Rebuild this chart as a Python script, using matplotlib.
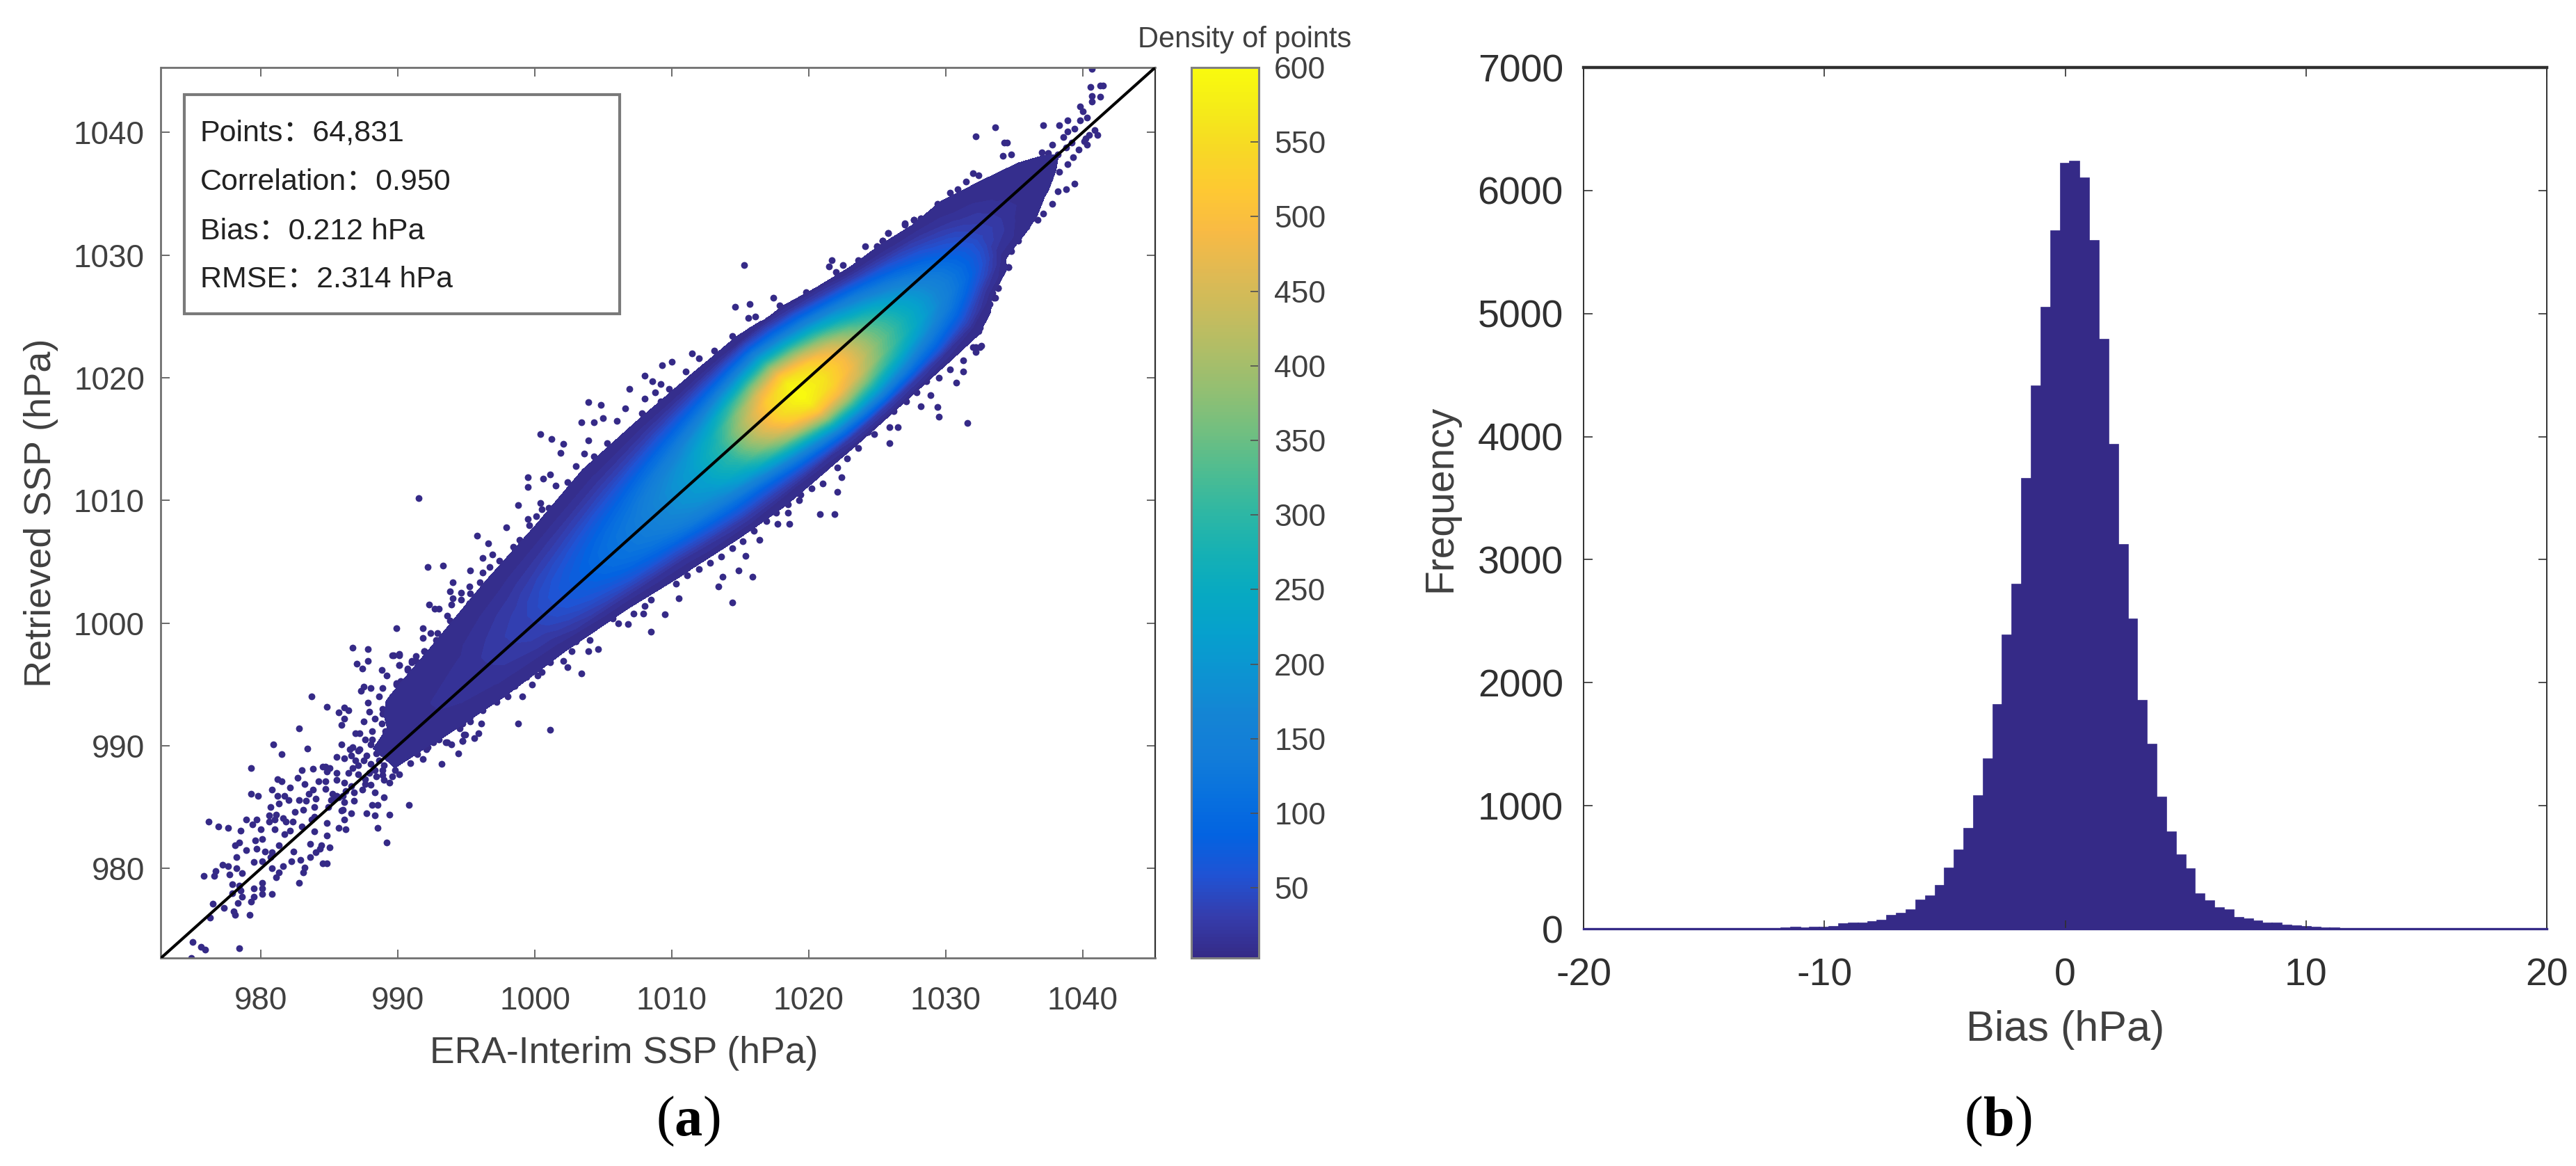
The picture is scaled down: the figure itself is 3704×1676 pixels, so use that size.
import numpy as np
import matplotlib
matplotlib.use("Agg")
import matplotlib.pyplot as plt
from matplotlib.colors import LinearSegmentedColormap, Normalize
from matplotlib.cm import ScalarMappable
from matplotlib.patches import Rectangle

plt.rcParams['font.family'] = ['Liberation Sans', 'Noto Sans CJK SC', 'DejaVu Sans']
plt.rcParams['axes.unicode_minus'] = False

# parula, every 4th entry or so of the 64 step table
parula = [
    (0.2081, 0.1663, 0.5292), (0.2081, 0.2386, 0.6771), (0.1253, 0.3242, 0.8303),
    (0.0117, 0.3875, 0.8820), (0.0329, 0.4430, 0.8720), (0.0723, 0.4887, 0.8467),
    (0.0793, 0.5200, 0.8312), (0.0488, 0.5772, 0.8228), (0.0239, 0.6287, 0.8038),
    (0.0267, 0.6642, 0.7607), (0.0843, 0.6928, 0.7062), (0.1801, 0.7177, 0.6424),
    (0.3022, 0.7376, 0.5712), (0.4420, 0.7481, 0.5033), (0.5709, 0.7485, 0.4494),
    (0.6834, 0.7435, 0.4044), (0.7858, 0.7356, 0.3633), (0.8824, 0.7274, 0.3217),
    (0.9739, 0.7314, 0.2666), (0.9955, 0.7861, 0.1967), (0.9697, 0.8481, 0.1475),
    (0.9598, 0.9218, 0.0948), (0.9763, 0.9831, 0.0538),
]
cmap = LinearSegmentedColormap.from_list('parula', parula, N=256)

along = [989, 992, 996, 1000, 1004, 1008, 1012, 1014, 1016, 1017.5, 1019, 1020.5, 1022,
         1024, 1026, 1028, 1030, 1032, 1034, 1036, 1038, 1039.5, 1041]
across = [-10, -9, -7.9, -6.8, -5.6, -4.5, -3.4, -2.2, -1.1, 0, 1.1, 2.2, 3.4, 4.5, 5.6, 6.8, 7.9, 9, 10]
density = [
    [0, 0, 0, 0, 0, 0, 0, 0, 7, 8, 7, 0, 0, 0, 0, 0, 0, 0, 0],
    [0, 0, 0, 0, 0, 0, 0, 6, 9, 11, 11, 9, 7, 5, 0, 0, 0, 0, 0],
    [0, 0, 0, 0, 0, 0, 6, 12, 16, 18, 18, 14, 11, 7, 5, 0, 0, 0, 0],
    [0, 0, 0, 0, 0, 4, 12, 24, 34, 38, 38, 33, 25, 17, 10, 5, 0, 0, 0],
    [0, 0, 0, 0, 4, 16, 42, 66, 82, 88, 84, 72, 54, 36, 22, 10, 4, 0, 0],
    [0, 0, 0, 5, 20, 52, 92, 125, 140, 140, 136, 120, 95, 68, 42, 22, 10, 4, 0],
    [0, 0, 6, 28, 70, 118, 170, 205, 220, 220, 215, 195, 158, 116, 74, 36, 14, 4, 0],
    [0, 2, 10, 40, 90, 160, 230, 280, 300, 300, 290, 260, 210, 150, 95, 45, 14, 3, 0],
    [0, 2, 15, 60, 140, 240, 340, 410, 440, 440, 425, 380, 300, 210, 125, 55, 15, 2, 0],
    [0, 2, 20, 85, 190, 310, 430, 510, 540, 540, 520, 465, 365, 255, 150, 65, 15, 0, 0],
    [0, 3, 30, 120, 260, 400, 510, 575, 600, 600, 575, 510, 400, 280, 170, 70, 12, 0, 0],
    [0, 3, 35, 140, 280, 400, 490, 540, 560, 555, 525, 450, 340, 230, 130, 50, 5, 0, 0],
    [0, 3, 35, 140, 260, 360, 440, 480, 490, 480, 440, 365, 265, 170, 90, 25, 0, 0, 0],
    [0, 3, 30, 110, 200, 280, 335, 360, 360, 345, 300, 235, 165, 95, 35, 3, 0, 0, 0],
    [0, 3, 22, 80, 140, 200, 245, 260, 255, 235, 195, 145, 90, 40, 6, 0, 0, 0, 0],
    [0, 3, 12, 45, 90, 130, 160, 170, 165, 145, 115, 80, 45, 15, 4, 0, 0, 0, 0],
    [0, 0, 0, 3, 25, 60, 90, 100, 95, 80, 60, 40, 20, 6, 0, 0, 0, 0, 0],
    [0, 0, 0, 0, 0, 5, 20, 34, 40, 36, 28, 17, 9, 5, 0, 0, 0, 0, 0],
    [0, 0, 0, 0, 0, 0, 8, 12, 15, 14, 12, 9, 5, 0, 0, 0, 0, 0, 0],
    [0, 0, 0, 0, 0, 0, 0, 5, 7, 8, 7, 5, 0, 0, 0, 0, 0, 0, 0],
    [0, 0, 0, 0, 0, 0, 0, 0, 3, 4.5, 3, 0, 0, 0, 0, 0, 0, 0, 0],
    [0, 0, 0, 0, 0, 0, 0, 0, 0, 0, 0, 0, 0, 0, 0, 0, 0, 0, 0],
    [0, 0, 0, 0, 0, 0, 0, 0, 0, 0, 0, 0, 0, 0, 0, 0, 0, 0, 0],
]

# single points outside the solid cloud, (ERA-Interim, retrieved) in hPa
tail_pts = [
    (974.9, 972.7), (975.0, 974.0), (975.6, 973.6), (975.9, 973.4), (978.4, 973.5), (976.3, 976.0),
    (976.5, 977.1), (977.3, 976.8), (978.0, 976.5), (978.1, 976.2), (979.2, 976.2), (978.3, 977.2),
    (978.6, 977.7), (979.3, 977.3), (979.5, 977.7), (977.9, 978.7), (978.4, 978.6), (977.9, 978.0),
    (978.5, 978.2), (979.5, 978.4), (980.1, 978.8), (980.1, 978.4), (980.1, 977.9), (980.8, 977.9),
    (975.8, 979.4), (976.6, 979.4), (976.7, 979.8), (977.2, 980.3), (977.6, 980.2), (977.7, 979.5),
    (978.2, 980.0), (978.6, 979.6), (978.2, 980.9), (978.9, 981.5), (978.1, 981.9), (978.4, 982.1),
    (979.6, 982.3), (979.7, 981.6), (980.1, 982.4), (979.5, 980.5), (980.1, 980.6), (980.3, 981.4),
    (980.8, 981.3), (980.7, 980.9), (980.8, 980.0), (981.3, 979.7), (981.1, 979.3), (981.6, 980.2),
    (982.2, 980.6), (982.9, 980.7), (982.8, 978.8), (983.2, 980.1), (983.1, 979.7), (983.6, 980.9),
    (984.0, 981.3), (984.4, 981.9), (984.3, 981.6), (985.0, 981.7), (983.6, 982.0), (984.5, 980.4),
    (984.8, 980.4), (981.3, 981.9), (982.4, 981.4), (976.2, 983.8), (976.9, 983.4), (977.6, 983.3),
    (978.5, 983.1), (978.9, 984.0), (979.4, 983.6), (979.7, 984.0), (980.0, 983.2), (981.0, 983.2),
    (980.6, 983.8), (981.0, 984.0), (980.6, 984.3), (981.1, 984.4), (980.7, 985.0), (981.6, 984.1),
    (981.8, 983.8), (982.3, 983.8), (982.1, 983.1), (981.7, 982.8), (983.0, 983.4), (983.9, 983.0),
    (983.7, 984.0), (983.9, 984.2), (984.8, 983.7), (984.8, 982.7), (985.7, 983.3), (986.2, 983.2),
    (986.1, 984.0), (986.6, 984.5), (985.9, 984.7), (987.7, 984.5), (988.3, 984.3), (989.4, 984.4),
    (988.5, 983.3), (989.2, 982.1), (990.8, 985.2), (988.1, 985.2), (988.5, 985.2), (989.0, 985.8),
    (986.8, 985.5), (979.3, 988.2), (979.3, 986.1), (979.8, 985.9), (980.8, 986.4), (981.2, 987.3),
    (981.5, 987.1), (982.1, 986.6), (981.2, 985.9), (981.3, 985.3), (981.7, 985.9), (982.0, 985.6),
    (982.8, 985.6), (983.3, 985.5), (982.5, 984.6), (983.1, 984.8), (982.7, 987.4), (983.2, 986.9),
    (983.0, 988.0), (983.8, 988.1), (984.2, 987.1), (983.8, 986.4), (983.5, 986.1), (984.0, 985.7),
    (983.9, 985.0), (984.7, 988.3), (984.5, 988.3), (985.0, 988.2), (984.8, 987.9), (984.7, 987.1),
    (984.7, 986.5), (985.2, 986.1), (985.1, 985.6), (984.9, 985.0), (985.5, 987.2), (985.5, 987.8),
    (985.5, 989.1), (986.1, 987.0), (986.4, 987.8), (986.0, 985.9), (986.1, 985.4), (987.1, 987.7),
    (987.4, 986.4), (988.0, 986.8), (988.3, 986.2), (986.8, 986.2), (987.6, 987.3), (986.9, 988.8),
    (986.1, 989.0), (986.7, 988.2), (987.5, 988.8), (988.0, 988.5), (988.3, 988.0), (988.6, 988.8),
    (989.0, 988.4), (988.9, 987.6), (989.4, 987.0), (989.0, 987.2), (989.8, 988.0), (990.1, 987.7),
    (990.9, 988.6), (991.8, 988.9), (993.2, 988.5), (994.4, 989.4), (993.6, 990.3), (994.7, 990.4),
    (994.8, 990.9), (992.6, 990.3), (992.1, 989.7), (991.4, 989.3), (990.4, 989.7), (980.9, 990.1),
    (983.4, 989.8), (981.5, 989.3), (982.8, 991.4), (983.7, 994.0), (984.8, 993.2), (985.9, 990.1),
    (986.7, 989.9), (987.1, 989.6), (986.5, 989.7), (987.6, 990.5), (988.0, 990.1), (988.4, 989.4),
    (988.9, 989.4), (986.9, 991.0), (987.2, 991.0), (985.9, 991.7), (986.1, 992.2), (985.7, 992.7),
    (986.1, 993.1), (986.4, 992.9), (987.5, 992.0), (988.1, 991.2), (987.3, 994.5), (987.5, 994.8),
    (988.0, 994.7), (987.8, 993.5), (988.9, 994.7), (988.6, 994.0), (987.0, 996.7), (987.4, 996.3),
    (987.8, 996.9), (987.8, 997.9), (986.7, 998.0), (988.8, 996.2), (989.2, 995.7), (989.7, 997.4),
    (990.1, 997.4), (990.1, 996.6), (989.9, 995.1), (990.7, 996.3), (991.0, 996.9), (991.9, 997.7),
    (988.9, 993.0), (989.3, 992.4), (989.6, 993.6), (990.0, 992.8), (990.4, 993.8), (990.9, 994.2),
    (989.2, 991.2), (989.0, 990.5), (989.6, 990.0), (990.2, 990.9), (990.9, 990.4), (991.3, 991.0),
    (991.3, 996.9), (991.8, 996.5), (992.3, 996.9), (993.2, 997.1), (991.8, 995.6), (991.3, 995.5),
    (991.0, 995.0), (992.6, 997.7), (993.7, 997.9), (994.7, 998.0), (991.4, 994.5), (989.6, 994.0),
    (990.0, 994.4), (990.3, 994.8), (990.1, 993.5), (988.9, 992.6), (988.3, 992.2), (987.9, 992.8),
    (988.8, 991.8), (989.1, 991.2), (988.1, 990.5), (995.3, 992.4), (995.3, 993.3), (994.7, 991.8),
    (993.8, 991.4), (993.0, 990.5), (992.2, 990.5), (991.3, 989.9), (990.6, 989.2), (989.9, 989.2),
    (989.4, 989.0), (988.9, 988.0), (989.6, 987.5), (987.2, 989.7), (986.6, 989.2), (987.7, 989.2),
    (987.1, 988.4), (987.9, 987.8), (988.4, 987.5), (987.6, 986.9), (985.7, 985.8), (986.0, 984.8),
    (985.5, 985.9), (986.2, 986.3), (985.2, 985.6), (986.6, 986.7),
]
upper_pts = [
    (991.5, 1010.2), (989.9, 999.6), (991.8, 999.6), (991.8, 998.8), (992.2, 1004.6), (993.3, 1004.7),
    (994.0, 1003.3), (993.8, 1002.6), (994.6, 1002.5), (994.0, 1002.0), (993.9, 1001.5), (994.6, 1001.9),
    (992.3, 1001.5), (992.7, 1001.2), (993.0, 1001.2), (993.6, 1000.6), (993.8, 1000.2), (994.4, 1000.2),
    (995.3, 1004.3), (995.8, 1007.1), (996.6, 1006.5), (996.2, 1005.3), (996.9, 1005.6), (997.4, 1005.1),
    (996.7, 1004.6), (996.2, 1004.1), (996.0, 1003.3), (996.7, 1003.4), (997.2, 1003.7), (996.4, 1003.0),
    (995.2, 1003.0), (995.3, 1002.4), (995.6, 1001.9), (995.2, 1001.6), (996.2, 1002.0), (996.8, 1002.3),
    (995.6, 1000.9), (995.0, 1001.1), (997.9, 1007.8), (998.8, 1009.6), (998.4, 1006.2), (998.9, 1006.8),
    (999.5, 1008.5), (999.6, 1008.0), (1000.1, 1008.7), (999.5, 1011.9), (999.5, 1011.1), (1000.6, 1011.8),
    (1001.1, 1012.1), (1000.4, 1009.8), (1000.5, 1009.3), (1001.0, 1009.4), (1001.7, 1009.7), (1001.5, 1011.2),
    (1002.4, 1011.5), (1003.1, 1011.3), (1003.7, 1011.5), (1001.6, 1008.8), (1000.3, 1007.9), (1001.0, 1007.7),
    (1000.4, 1007.0), (999.5, 1006.6), (1000.0, 1006.0), (999.0, 1005.2), (998.6, 1004.5), (998.0, 1004.3),
    (1002.2, 1010.4), (997.7, 1003.9),
    (990.1, 997.5), (990.1, 996.6), (989.6, 997.4), (991.0, 996.8), (991.3, 997.3), (991.9, 997.7),
    (992.4, 997.0), (991.8, 996.7), (990.7, 996.2), (991.9, 996.0), (989.9, 995.0), (990.2, 995.3),
    (991.1, 995.0), (991.3, 995.5), (992.8, 998.6), (992.4, 999.2), (992.9, 999.2), (992.9, 998.0),
    (993.8, 998.9), (993.5, 998.2), (993.2, 997.1), (994.5, 999.8), (994.3, 999.0), (995.0, 1000.1),
    (995.5, 999.2),
    (1015.3, 1029.2), (1017.4, 1026.5), (1014.6, 1025.8), (1015.7, 1026.0), (1017.9, 1025.9), (1018.5, 1025.8),
    (1015.6, 1024.9), (1016.1, 1025.0), (1017.0, 1024.7), (1015.8, 1023.9), (1014.4, 1023.4), (1015.0, 1023.1),
    (1014.4, 1022.3), (1013.1, 1022.2), (1011.5, 1022.0), (1009.3, 1021.0), (1010.0, 1021.3), (1008.0, 1020.2),
    (1008.6, 1019.7), (1009.2, 1019.5), (1006.9, 1019.1), (1011.0, 1020.5), (1011.3, 1019.9), (1012.0, 1020.3),
    (1012.0, 1021.6), (1009.8, 1019.1), (1008.8, 1018.8), (1009.2, 1018.1), (1008.0, 1018.3), (1003.9, 1018.0),
    (1004.8, 1017.8), (1006.6, 1017.5), (1007.8, 1017.1), (1006.0, 1016.5), (1005.0, 1016.7), (1003.4, 1016.4),
    (1004.3, 1016.4), (1000.4, 1015.4), (1001.2, 1015.0), (1002.1, 1014.6), (1001.9, 1013.9), (1003.9, 1014.9),
    (1005.3, 1014.7), (1003.6, 1013.8), (1004.3, 1013.6), (1003.0, 1012.8), (1004.8, 1012.9), (1003.7, 1012.4),
    (1019.8, 1027.0), (1019.5, 1026.3), (1021.5, 1029.1), (1021.7, 1029.6), (1022.5, 1029.2), (1022.0, 1028.6),
    (1023.6, 1029.6), (1024.1, 1030.7), (1025.0, 1030.7), (1025.4, 1031.2), (1025.8, 1031.8), (1027.0, 1032.6),
    (1027.7, 1032.9), (1028.2, 1033.0), (1021.4, 1027.3), (1022.6, 1028.0), (1023.7, 1028.9), (1024.6, 1029.7),
    (998.0, 1004.8), (998.9, 1005.6), (999.7, 1007.2), (1000.7, 1006.9), (1001.4, 1007.9), (1002.2, 1008.5),
    (1002.9, 1009.4), (1003.5, 1010.3), (1004.1, 1011.0), (1004.9, 1011.4), (1005.4, 1012.3), (1006.2, 1013.0),
    (1006.6, 1014.0), (1007.3, 1014.9), (1008.0, 1015.6), (1008.7, 1016.3), (1009.4, 1016.9), (1010.3, 1017.6),
    (1011.0, 1018.4), (1011.7, 1018.9), (1012.6, 1019.4), (1013.4, 1020.4), (1014.2, 1020.9), (1015.0, 1021.7),
    (1015.9, 1022.4), (1016.7, 1022.9), (1017.6, 1023.5), (1018.5, 1024.3), (1019.4, 1024.7), (1020.3, 1025.6),
    (1021.2, 1026.2), (1022.2, 1026.7), (1023.0, 1027.5), (1024.0, 1028.1), (1025.0, 1028.7), (1026.0, 1029.7),
    (1027.0, 1030.5), (1028.0, 1031.0), (1029.0, 1031.8), (1030.0, 1032.7), (1031.0, 1033.4), (1032.0, 1034.3),
    (1033.0, 1035.0), (1033.8, 1036.1), (1034.5, 1036.4), (1035.4, 1037.0), (1036.2, 1037.6), (1037.0, 1038.4),
    (1037.8, 1039.0), (1038.6, 1039.6), (1039.4, 1040.3), (1038.9, 1040.1), (1039.8, 1041.0),
]
lower_pts = [
    (1009.5, 1000.7), (1008.5, 999.3), (1006.8, 999.9), (1007.2, 1000.8), (1007.9, 1000.8), (1008.0, 1001.4),
    (1007.2, 1001.9), (1008.5, 1001.9), (1006.1, 1000.0), (1005.7, 1000.4), (1006.3, 1001.3), (1004.6, 997.9),
    (1004.0, 998.6), (1003.9, 997.7), (1003.4, 995.9), (1002.7, 997.7), (1002.4, 996.4), (1002.1, 996.9),
    (1001.1, 996.8), (1000.5, 996.0), (1000.2, 995.7), (999.8, 995.0), (999.4, 995.6), (999.1, 994.0),
    (998.0, 994.0), (998.8, 991.8), (1001.1, 991.3), (996.1, 991.8), (995.3, 992.0), (995.9, 991.0),
    (995.6, 990.6), (994.7, 990.4), (993.9, 990.1), (993.5, 990.3), (994.9, 990.9), (997.2, 993.6),
    (996.2, 992.9), (995.4, 993.3), (998.5, 994.9), (994.3, 991.8), (995.1, 992.4), (992.9, 990.9),
    (992.2, 989.9), (991.6, 990.1), (993.4, 991.6), (993.8, 991.5), (994.5, 991.4),
    (1031.6, 1016.3), (1025.9, 1014.7), (1021.9, 1008.9), (1020.8, 1008.9), (1018.6, 1008.1), (1017.7, 1008.1),
    (1016.4, 1006.8), (1015.4, 1005.5), (1015.9, 1003.8), (1014.9, 1004.3), (1013.7, 1003.8), (1013.4, 1003.0),
    (1014.4, 1001.7), (1010.5, 1002.0), (1022.1, 1010.7), (1019.3, 1010.0), (1018.5, 1009.7), (1018.5, 1009.0),
    (1029.5, 1016.8), (1029.4, 1017.6), (1028.9, 1018.6), (1028.2, 1017.7), (1026.5, 1016.0), (1025.9, 1016.0),
    (1024.8, 1015.4), (1024.3, 1015.6), (1023.6, 1014.3), (1022.8, 1013.4), (1022.1, 1012.7), (1022.4, 1011.9),
    (1021.0, 1011.4), (1020.2, 1011.0), (1019.4, 1010.5), (1032.2, 1022.5), (1032.6, 1022.6), (1031.3, 1021.4),
    (1031.3, 1020.5), (1030.3, 1020.7), (1030.8, 1019.6), (1032.4, 1024.0), (1033.8, 1027.3), (1034.6, 1029.0),
    (1033.5, 1026.5), (1033.3, 1027.9), (1033.1, 1026.0), (1032.8, 1025.1),
    (1000.0, 997.5), (1000.8, 997.0), (1001.5, 997.6), (1002.3, 998.2), (1003.0, 998.5), (1003.5, 999.3),
    (1004.5, 1000.0), (1005.2, 1000.9), (999.5, 996.7), (998.8, 995.9), (998.0, 995.3), (997.4, 994.5),
    (996.7, 993.6), (996.0, 993.9), (1005.9, 1001.6), (1006.8, 1002.4), (1007.6, 1002.6), (1008.6, 1003.0),
    (1009.6, 1003.6), (1010.3, 1003.2), (1011.1, 1003.9), (1012.0, 1004.4), (1012.8, 1004.9), (1013.6, 1005.4),
    (1014.4, 1006.1), (1015.2, 1006.7), (1016.0, 1007.5), (1016.9, 1008.3), (1017.6, 1009.0), (1018.3, 1009.9),
    (1019.0, 1010.8), (1020.0, 1011.9), (1021.0, 1012.5), (1021.8, 1013.5), (1022.6, 1014.4), (1023.4, 1015.2),
    (1024.2, 1016.1), (1025.2, 1016.9), (1026.2, 1017.3), (1027.1, 1018.1), (1027.9, 1018.8), (1028.6, 1019.7),
    (1029.5, 1020.0), (1030.0, 1021.4), (1030.6, 1022.2), (1031.2, 1023.1), (1031.6, 1024.2), (1032.0, 1025.3),
    (1032.3, 1026.4), (1032.6, 1027.4), (1033.0, 1028.5), (1033.4, 1029.5),
]
top_pts = [
    (1040.7, 1045.2), (1040.6, 1043.7), (1041.3, 1043.8), (1041.5, 1043.8), (1040.7, 1043.0), (1041.3, 1042.9),
    (1040.7, 1042.5), (1039.8, 1042.1), (1040.0, 1041.7), (1040.3, 1041.2), (1038.9, 1041.0), (1037.1, 1040.6),
    (1038.3, 1040.6), (1033.6, 1040.4), (1032.2, 1039.7), (1034.3, 1039.2), (1034.5, 1039.2), (1034.8, 1038.2),
    (1034.2, 1038.1), (1032.0, 1036.7), (1032.4, 1036.5), (1030.3, 1035.1), (1030.9, 1035.4), (1031.5, 1036.0),
    (1029.4, 1034.2), (1029.5, 1033.3), (1028.2, 1033.0), (1027.7, 1032.9), (1027.0, 1032.5), (1028.4, 1032.5),
    (1029.4, 1032.6), (1025.8, 1031.8), (1025.4, 1031.2), (1025.0, 1030.7), (1040.9, 1040.2), (1041.1, 1039.8),
    (1040.3, 1039.0), (1040.2, 1039.5), (1039.4, 1035.8), (1038.2, 1035.2), (1038.8, 1035.4), (1037.8, 1034.2),
    (1037.1, 1033.4), (1036.7, 1032.9), (1036.3, 1033.0), (1035.9, 1032.3), (1035.3, 1031.2), (1034.6, 1029.0),
    (1034.8, 1030.3), (1033.8, 1029.3), (1033.7, 1028.4), (1033.8, 1027.3), (1033.3, 1028.0), (1033.4, 1026.9),
    (1033.6, 1026.5), (1033.2, 1026.0), (1032.8, 1025.1), (1032.5, 1024.1), (1032.4, 1023.8), (1032.5, 1022.5),
    (1032.0, 1022.5), (1032.2, 1022.1),
    (1035.0, 1033.0), (1035.7, 1034.2), (1036.4, 1034.9), (1037.0, 1035.6), (1037.6, 1036.2), (1038.3, 1036.8),
    (1038.9, 1037.4), (1039.3, 1038.0), (1039.7, 1038.6), (1040.1, 1039.3), (1040.5, 1039.8), (1034.4, 1031.8),
    (1034.0, 1030.7), (1036.8, 1037.3), (1037.5, 1038.3), (1038.2, 1038.2), (1038.8, 1038.8), (1039.2, 1039.2),
    (1035.8, 1035.9), (1035.0, 1035.4), (1034.8, 1034.3), (1036.2, 1036.7),
]

info_lines = ['Points：64,831', 'Correlation：0.950', 'Bias：0.212 hPa', 'RMSE：2.314 hPa']
ssp_ticks = [980, 990, 1000, 1010, 1020, 1030, 1040]
density_ticks = [50, 100, 150, 200, 250, 300, 350, 400, 450, 500, 550, 600]

# panel b: counts per 0.4 hPa bin, centres run from -20 to 20
bias_centers = np.linspace(-20, 20, 101)
bias_counts = [0, 0, 0, 0, 0, 0, 0, 0, 0, 0, 0, 0, 0, 0, 0, 0, 0, 0, 0, 1, 2, 4,
               14, 8, 10, 12, 15, 42, 45, 45, 56, 69, 107, 124, 153, 232, 263, 352, 490, 641, 816,
               1080, 1382, 1823, 2386, 2799, 3657, 4410, 5051, 5670, 6219,
               6238, 6100, 5592, 4788, 3934, 3120, 2516, 1857, 1498, 1069, 786, 601, 488, 283, 226, 170,
               154, 90, 79, 62, 45, 45, 30, 20, 15, 12, 8, 3, 1, 0,
               0, 0, 0, 0, 0, 0, 0, 0, 0, 0, 0, 0, 0, 0, 0, 0, 0, 0, 0, 0]

W, H = 3705, 1676
fig = plt.figure(figsize=(W / 100, H / 100), dpi=100, facecolor='white')


def axes_px(left, top, right, bottom):
    return fig.add_axes([left / W, 1 - bottom / H, (right - left) / W, (bottom - top) / H])


text_col = '#404040'
ax1 = axes_px(231.5, 97, 1661, 1377)
ax1.set_xlim(972.7, 1045.3)
ax1.set_ylim(972.7, 1045.3)

all_pts = np.array(tail_pts + upper_pts + lower_pts + top_pts)
ax1.scatter(all_pts[:, 0], all_pts[:, 1], s=50, color='#352a87', linewidths=0, zorder=1)

# cloud: rows run along the 1:1 line, columns across it
t_grid, d_grid = np.meshgrid(along, across, indexing='ij')
x_grid = t_grid - d_grid / 2
y_grid = t_grid + d_grid / 2
norm = Normalize(3, 600)
levels = np.linspace(4, 601, 70)
cs = ax1.contourf(x_grid, y_grid, np.array(density, dtype=float), levels=levels, cmap=cmap, norm=norm, zorder=2)
cs.set_edgecolor('face')
cs.set_linewidth(0.4)

ax1.plot([972.7, 1045.3], [972.7, 1045.3], color='black', lw=3.0, zorder=3)

ax1.set_xticks(ssp_ticks)
ax1.set_yticks(ssp_ticks)
ax1.tick_params(axis='both', direction='in', length=9, width=1.2, top=True, right=True,
                labelsize=33, colors='#505050', labelcolor=text_col)
ax1.tick_params(axis='x', pad=29)
ax1.tick_params(axis='y', pad=17)
ax1.set_xlabel('ERA-Interim SSP (hPa)', fontsize=38.5, color=text_col)
ax1.xaxis.set_label_coords(0.466, -0.0875)
ax1.set_ylabel('Retrieved SSP (hPa)', fontsize=39, color=text_col, labelpad=16)
for name in ['left', 'top', 'bottom']:
    ax1.spines[name].set_color('#707070')
    ax1.spines[name].set_linewidth(2.0)
ax1.spines['right'].set_color('#303030')
ax1.spines['right'].set_linewidth(1.6)

# info box
ax1.add_patch(Rectangle((974.4, 1025.2), 31.8, 17.9, facecolor='white', edgecolor='#7a7a7a', lw=3, zorder=5))
for k, line in enumerate(info_lines):
    ax1.text(975.55, [1039.3, 1035.3, 1031.3, 1027.4][k], line, fontsize=31, color='#222222',
             va='baseline', ha='left', zorder=6)

# colorbar
cax = axes_px(1712.7, 97, 1810, 1377)
cb = fig.colorbar(ScalarMappable(norm=norm, cmap=cmap), cax=cax)
cb.set_ticks(density_ticks)
cax.tick_params(axis='y', direction='in', length=9, width=1.2, labelsize=32, pad=16,
                colors='#505050', labelcolor=text_col)
cb.outline.set_edgecolor('#808080')
cb.outline.set_linewidth(2.2)
fig.text(1790 / W, 1 - 68 / H, 'Density of points', fontsize=30, color=text_col, ha='center', va='baseline')

# panel b
ax2 = axes_px(2277, 97, 3662, 1335)
ax2.bar(bias_centers, bias_counts, width=0.4, color='#352a87', edgecolor='#352a87', linewidth=1.2, zorder=1)
ax2.set_xlim(-20, 20)
ax2.set_ylim(0, 7000)
ax2.set_xticks([-20, -10, 0, 10, 20])
ax2.set_yticks(range(0, 7001, 1000))
ax2.tick_params(axis='both', direction='in', length=9, width=1.2, top=True, right=True,
                labelsize=40, colors='#303030', labelcolor='#303030')
ax2.tick_params(axis='x', pad=30)
ax2.tick_params(axis='y', pad=21)
ax2.set_xlabel('Bias (hPa)', fontsize=44, color=text_col, labelpad=17)
ax2.set_ylabel('Frequency', fontsize=41, color=text_col, labelpad=19)
for name in ['left', 'right']:
    ax2.spines[name].set_color('#303030')
    ax2.spines[name].set_linewidth(1.4)
ax2.spines['bottom'].set_color('#352a87')
ax2.spines['bottom'].set_linewidth(2.4)
ax2.spines['top'].set_color('#303030')
ax2.spines['top'].set_linewidth(3.2)


# sub captions, parens plain and the letter bold
def caption(cx, letter):
    em = 58 * 100 / 72
    lw = 0.556 * em if letter == 'b' else 0.5 * em
    py = 1 - 1632 / H
    fig.text((cx - lw / 2) / W, py, '(', fontsize=58, family='Liberation Serif', ha='right', va='baseline', color='black')
    fig.text(cx / W, py, letter, fontsize=58, family='Liberation Serif', weight='bold', ha='center', va='baseline', color='black')
    fig.text((cx + lw / 2) / W, py, ')', fontsize=58, family='Liberation Serif', ha='left', va='baseline', color='black')


caption(990, 'a')
caption(2874, 'b')

fig.savefig('out.png', dpi=100, facecolor='white')
